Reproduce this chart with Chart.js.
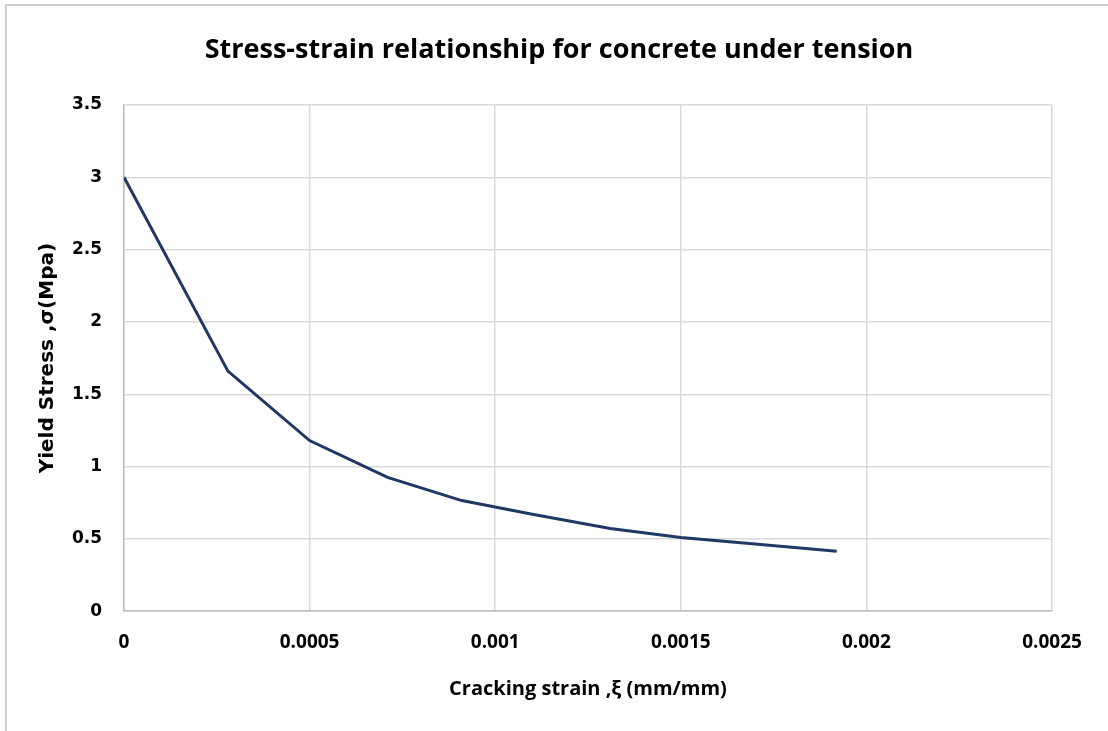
<!DOCTYPE html>
<html>
<head>
<meta charset="utf-8">
<script src="https://cdn.jsdelivr.net/npm/chart.js@4.4.1/dist/chart.umd.min.js"></script>
<style>
  html, body { margin: 0; padding: 0; background: #fff; }
  #wrap { position: absolute; left: 0; top: 0; width: 1108px; height: 731px; }
  #frame { position: absolute; left: 5px; top: 4px; width: 1103px; height: 727px;
           border-left: 2px solid #cfcfcf; border-top: 2px solid #cfcfcf; pointer-events: none; }
</style>
</head>
<body>
<div id="wrap"><canvas id="grafico" width="1108" height="731"></canvas></div>
<div id="frame"></div>
<script>
// deformacao de fissuracao x tensao
const deformacao = [0, 0.00028, 0.0005, 0.00071, 0.00091, 0.0011, 0.00131, 0.0015, 0.0017, 0.00192];
const tensao = [3.0, 1.66, 1.18, 0.925, 0.765, 0.67, 0.572, 0.51, 0.465, 0.415];

const xTickLabels = ['0', '0.0005', '0.001', '0.0015', '0.002', '0.0025'];
const yTickLabels = ['0', '0.5', '1', '1.5', '2', '2.5', '3', '3.5'];

const titulo = 'Stress-strain relationship for concrete under tension';
const tituloX = 'Cracking strain ,\u03BE (mm/mm)';
const tituloY = 'Yield Stress ,\u03C3(Mpa)';

const pontos = [];
for (let i = 0; i < deformacao.length; i++) {
    pontos.push({ x: deformacao[i], y: tensao[i] });
}

const fonte = "'Open Sans', sans-serif";
const fonteLarga = "'DejaVu Sans', sans-serif";
const corGrade = '#d9d9d9';

const grafico = new Chart(document.getElementById('grafico'), {
    type: 'scatter',
    data: {
        datasets: [{
            data: pontos,
            showLine: true,
            borderColor: '#203864',
            borderWidth: 3,
            pointRadius: 0,
            tension: 0
        }]
    },
    options: {
        responsive: false,
        animation: false,
        layout: { padding: { left: 30, right: 56, top: 18, bottom: 30 } },
        plugins: {
            legend: { display: false },
            tooltip: { enabled: false },
            title: {
                display: true,
                text: titulo,
                color: '#000',
                font: { family: fonte, size: 27, weight: 'bold' },
                padding: { top: 16, bottom: 38.6 }
            }
        },
        scales: {
            x: {
                type: 'linear',
                min: 0,
                max: 0.0025,
                ticks: {
                    stepSize: 0.0005,
                    padding: 20,
                    color: '#000',
                    font: { family: fonte, size: 19, weight: 'bold' },
                    callback: function (v, i) { return xTickLabels[i]; }
                },
                grid: { color: corGrade, lineWidth: 1.5, drawTicks: false },
                border: { color: '#bfbfbf', width: 1.5 },
                title: {
                    display: true,
                    text: tituloX,
                    color: '#000',
                    font: { family: fonte, size: 20, weight: 'bold' },
                    padding: { top: 3, bottom: 0 }
                }
            },
            y: {
                min: 0,
                max: 3.5,
                afterFit: function (scale) { scale.width = 94; },
                ticks: {
                    stepSize: 0.5,
                    padding: 22,
                    color: '#000',
                    font: { family: fonteLarga, size: 17, weight: 'bold' },
                    callback: function (v, i) { return yTickLabels[i]; }
                },
                grid: { color: corGrade, lineWidth: 1.5, drawTicks: false },
                border: { color: '#bfbfbf', width: 1.5 },
                title: {
                    display: true,
                    text: tituloY,
                    color: '#000',
                    font: { family: fonteLarga, size: 20, weight: 'bold' },
                    padding: { top: 6, bottom: 0 }
                }
            }
        }
    },
    plugins: [{
        id: 'fundo',
        beforeDraw: function (chart) {
            const ctx = chart.ctx;
            ctx.save();
            ctx.fillStyle = '#fff';
            ctx.fillRect(0, 0, chart.width, chart.height);
            ctx.restore();
        }
    }, {
        // o titulo fica centrado um pouco mais a direita no original
        id: 'moverTitulo',
        afterLayout: function (chart) {
            if (chart.titleBlock) {
                chart.titleBlock.left += 36;
            }
        }
    }]
});
</script>
</body>
</html>
